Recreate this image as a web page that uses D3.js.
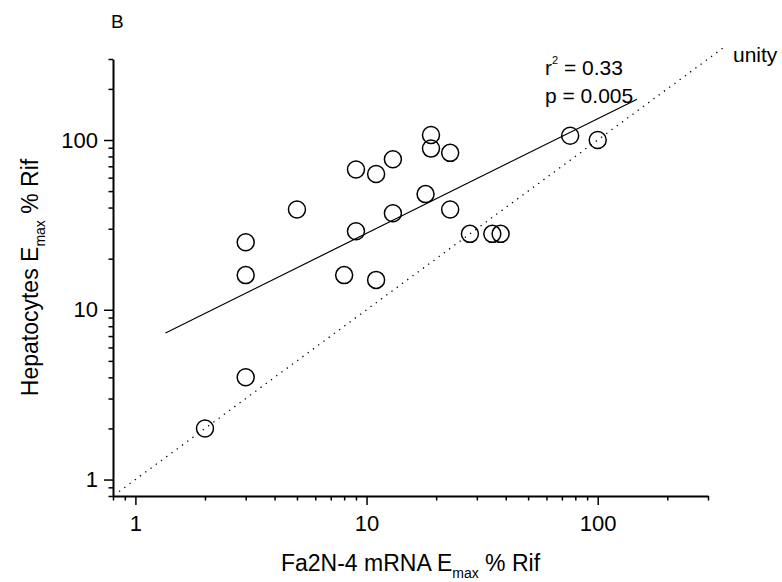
<!DOCTYPE html>
<html lang="en">
<head>
<meta charset="UTF-8">
<title>Hepatocytes vs Fa2N-4 Emax</title>
<script src="https://d3js.org/d3.v7.min.js"></script>
<style>
  body { margin: 0; background: #fff; }
  text { font-family: "Liberation Sans", Arial, sans-serif; fill: #000; }
</style>
</head>
<body>
<svg class="chart" width="782" height="582"></svg>
<script>
// values (Emax as % of rifampicin)
const fa2nEmax = [2, 3, 3, 3, 5, 8, 9, 9, 11, 11, 13, 13, 18, 19, 19, 23, 23, 28, 35, 38, 76, 100]
const hepEmax  = [2, 4, 16, 25, 39, 16, 67, 29, 63, 15, 77, 37, 48, 107, 89, 84, 39, 28, 28, 28, 106, 100]

// regression line end points and unity line extent
const fitLine = [{ x: 1.35, y: 7.3 }, { x: 148, y: 174 }]
const unityLine = [0.85, 348]

const axisDomain = [0.8, 300]
const majorTicks = [1, 10, 100]
const minorTicks = [0.8, 0.9, 2, 3, 4, 5, 6, 7, 8, 9, 20, 30, 40, 50, 60, 70, 80, 90, 200, 300]

const points = fa2nEmax.map((d, i) => ({ x: d, y: hepEmax[i] }))

const svg = d3.select('.chart')

// log scales, both axes 0.8 .. 300
const x = d3.scaleLog().domain(axisDomain).range([113, 708])
const y = d3.scaleLog().domain(axisDomain).range([496, 59])

const fmt = d => d3.format('d')(d)

// x axis: minor ticks first, then major ticks + labels + axis line
svg.append('g')
    .attr('transform', 'translate(0,496)')
    .call(d3.axisBottom(x).tickValues(minorTicks).tickSize(4.5).tickFormat(''))
    .call(g => g.select('.domain').remove())
    .selectAll('line').attr('stroke-width', 1.5)

const xAxis = svg.append('g')
    .attr('transform', 'translate(0,496)')
    .call(d3.axisBottom(x).tickValues(majorTicks).tickSize(9).tickSizeOuter(0).tickPadding(10).tickFormat(fmt))
xAxis.select('.domain').attr('stroke-width', 2)
xAxis.selectAll('line').attr('stroke-width', 1.5)
xAxis.selectAll('text').attr('font-size', 22).attr('font-family', '"Liberation Sans", Arial, sans-serif')

// y axis
svg.append('g')
    .attr('transform', 'translate(113,0)')
    .call(d3.axisLeft(y).tickValues(minorTicks).tickSize(4.5).tickFormat(''))
    .call(g => g.select('.domain').remove())
    .selectAll('line').attr('stroke-width', 1.5)

const yAxis = svg.append('g')
    .attr('transform', 'translate(113,0)')
    .call(d3.axisLeft(y).tickValues(majorTicks).tickSize(9).tickSizeOuter(0).tickPadding(6).tickFormat(fmt))
yAxis.select('.domain').attr('stroke-width', 2)
yAxis.selectAll('line').attr('stroke-width', 1.5)
yAxis.selectAll('text').attr('font-size', 22).attr('font-family', '"Liberation Sans", Arial, sans-serif')

// unity line (dotted)
const line = d3.line().x(d => x(d.x)).y(d => y(d.y))
svg.append('path')
    .attr('d', line(unityLine.map(v => ({ x: v, y: v }))))
    .attr('fill', 'none')
    .attr('stroke', '#000')
    .attr('stroke-width', 1.3)
    .attr('stroke-dasharray', '1.3,5.2')

// regression line
svg.append('path')
    .attr('d', line(fitLine))
    .attr('fill', 'none')
    .attr('stroke', '#000')
    .attr('stroke-width', 1.2)

// open circles
svg.append('g')
    .selectAll('circle')
    .data(points)
    .join('circle')
    .attr('cx', d => x(d.x))
    .attr('cy', d => y(d.y))
    .attr('r', 8.5)
    .attr('fill', 'none')
    .attr('stroke', '#000')
    .attr('stroke-width', 1.5)

// panel letter
svg.append('text').attr('x', 111).attr('y', 28).attr('font-size', 19).text('B')

// axis titles
const xTitle = svg.append('text')
    .attr('x', 410.5).attr('y', 571)
    .attr('text-anchor', 'middle')
    .attr('font-size', 23)
xTitle.append('tspan').text('Fa2N-4 mRNA E')
xTitle.append('tspan').attr('font-size', 14).attr('dy', 7).text('max')
xTitle.append('tspan').attr('dy', -7).text(' % Rif')

const yTitle = svg.append('text')
    .attr('transform', 'translate(38,277.5) rotate(-90)')
    .attr('text-anchor', 'middle')
    .attr('font-size', 23)
yTitle.append('tspan').text('Hepatocytes E')
yTitle.append('tspan').attr('font-size', 14).attr('dy', 7).text('max')
yTitle.append('tspan').attr('dy', -7).text(' % Rif')

// statistics
const r2 = svg.append('text').attr('x', 545).attr('y', 75).attr('font-size', 21)
r2.append('tspan').text('r')
r2.append('tspan').attr('font-size', 11).attr('dy', -11).text('2')
r2.append('tspan').attr('dy', 11).text(' = 0.33')

svg.append('text').attr('x', 545).attr('y', 103).attr('font-size', 21).text('p = 0.005')

svg.append('text').attr('x', 733).attr('y', 62).attr('font-size', 21).text('unity')
</script>
</body>
</html>
